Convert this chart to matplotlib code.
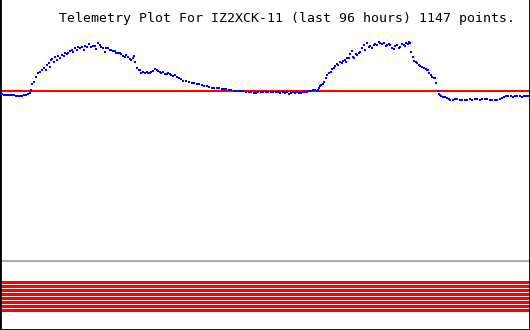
import matplotlib
matplotlib.use("Agg")
import matplotlib.pyplot as plt

# time axis in sample steps across the 96 hour window, readings in raw units
t = [0, 2, 4, 6, 8, 10, 12, 14, 16, 18, 20, 22, 24, 26, 28, 30, 31, 32, 34, 36,
     38, 40, 42, 44, 46, 47, 49, 50, 51, 52, 54, 55, 57, 58, 60, 62, 64, 65, 67, 68,
     70, 72, 73, 75, 77, 78, 80, 82, 84, 85, 87, 89, 91, 93, 95, 96, 98, 100, 101, 103,
     105, 106, 108, 110, 111, 113, 115, 116, 118, 120, 121, 123, 125, 126, 128, 130, 131, 133, 134, 135,
     137, 139, 140, 141, 143, 145, 147, 148, 150, 151, 153, 155, 157, 158, 160, 161, 163, 165, 167, 168,
     170, 171, 173, 175, 177, 179, 181, 183, 186, 189, 192, 194, 197, 199, 202, 204, 207, 209, 212, 214,
     217, 219, 222, 224, 226, 229, 231, 234, 236, 239, 241, 243, 246, 249, 251, 254, 256, 258, 261, 263,
     266, 268, 271, 273, 276, 278, 280, 283, 285, 287, 289, 291, 293, 295, 297, 299, 301, 303, 305, 307,
     309, 311, 313, 315, 317, 318, 319, 320, 321, 323, 324, 326, 327, 329, 331, 332, 334, 335, 337, 338,
     340, 342, 343, 345, 346, 347, 349, 350, 352, 353, 354, 356, 357, 359, 360, 362, 364, 365, 367, 369,
     370, 372, 374, 375, 377, 379, 380, 382, 384, 386, 387, 389, 390, 392, 394, 395, 397, 399, 400, 402,
     404, 405, 406, 408, 409, 410, 411, 413, 414, 416, 417, 419, 420, 422, 424, 426, 427, 428, 429, 431,
     432, 434, 435, 436, 438, 439, 440, 441, 443, 445, 447, 449, 450, 453, 455, 457, 460, 462, 465, 467,
     470, 472, 475, 477, 480, 482, 485, 487, 490, 492, 495, 497, 500, 502, 504, 506, 508, 511, 513, 515,
     517, 520, 522, 524, 526, 528]
value = [237, 236, 235, 235, 235, 235, 235, 235, 234, 234, 234, 234, 235, 235, 236, 237, 240, 246, 248, 253,
         257, 258, 260, 262, 260, 265, 267, 263, 270, 271, 268, 273, 270, 274, 272, 275, 274, 277, 276, 277,
         279, 280, 278, 282, 280, 283, 282, 283, 280, 284, 283, 286, 283, 284, 284, 281, 287, 285, 283, 282,
         278, 282, 282, 280, 280, 279, 279, 277, 277, 277, 276, 274, 273, 275, 273, 271, 270, 272, 274, 268,
         262, 260, 260, 257, 258, 257, 258, 257, 257, 258, 259, 261, 260, 259, 258, 257, 258, 256, 256, 257,
         256, 255, 254, 255, 253, 252, 251, 249, 249, 248, 247, 247, 246, 246, 245, 244, 244, 243, 242, 242,
         242, 242, 241, 241, 241, 240, 240, 239, 239, 239, 239, 239, 238, 238, 238, 237, 237, 238, 238, 238,
         238, 238, 238, 238, 238, 238, 237, 238, 237, 238, 236, 237, 238, 237, 238, 237, 237, 238, 238, 238,
         239, 239, 240, 240, 239, 240, 242, 244, 245, 246, 248, 252, 255, 257, 258, 261, 262, 264, 266, 265,
         268, 267, 269, 270, 268, 272, 272, 276, 279, 273, 272, 276, 275, 277, 278, 282, 285, 280, 287, 283,
         284, 282, 285, 286, 285, 288, 287, 286, 287, 284, 285, 286, 285, 282, 281, 284, 285, 282, 283, 286,
         285, 284, 287, 286, 288, 287, 278, 273, 269, 268, 267, 265, 264, 263, 262, 261, 260, 260, 257, 255,
         253, 252, 252, 247, 239, 236, 235, 234, 233, 233, 232, 231, 230, 230, 231, 231, 230, 230, 230, 230,
         231, 230, 231, 231, 230, 231, 231, 231, 230, 230, 230, 230, 231, 232, 233, 234, 234, 234, 233, 234,
         234, 234, 233, 234, 234, 234]

threshold = 239.5
baseline = 69
stripe_levels = [48.5, 44.5, 40.5, 36.5, 32.5, 28.5, 24.5, 20.5]

title = "Telemetry Plot For IZ2XCK-11 (last 96 hours) 1147 points."

fig = plt.figure(figsize=(5.3, 3.3), dpi=100)
ax = fig.add_axes([0, 0, 1, 1])
ax.set_xlim(0, 530)
ax.set_ylim(0, 330)

for lvl in stripe_levels:
    ax.axhline(lvl, color="#ff0000", lw=2.2)
ax.axhline(baseline, color="#aaaaaa", lw=1.4)
ax.axhline(threshold, color="#ff0000", lw=1.5, zorder=2)
ax.plot(t, value, ls="none", marker="s", ms=1.6, mew=0, color="#0000ff", zorder=3)

ax.set_xticks([])
ax.set_yticks([])
ax.spines["top"].set_visible(False)
for s in ["left", "right", "bottom"]:
    ax.spines[s].set_linewidth(2)
    ax.spines[s].set_color("black")

fig.text(515 / 530, 1 - 22 / 330, title, ha="right", va="baseline",
         family="DejaVu Sans Mono", fontsize=9.5)

fig.savefig("out.png", dpi=100)
